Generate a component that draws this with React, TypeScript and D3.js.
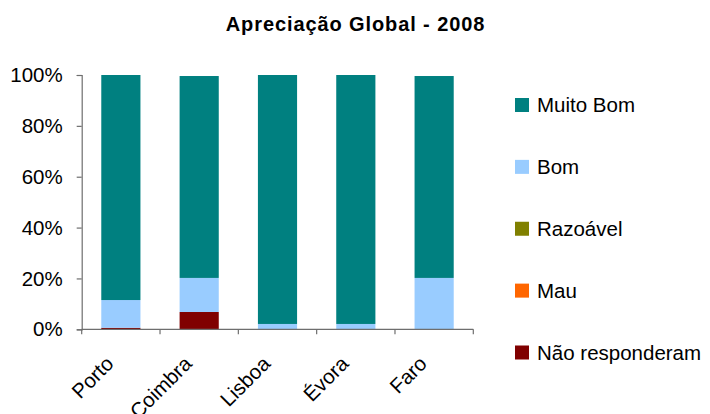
import { useRef, useEffect } from "react";
import * as d3 from "d3";

const categories = ["Porto", "Coimbra", "Lisboa", "Évora", "Faro"];
const naoResponderam = [0.6, 6.8, 0, 0, 0];
const mau = [0, 0, 0, 0, 0];
const razoavel = [0, 0, 0, 0, 0];
const bom = [10.9, 13.4, 2.1, 2.1, 20.2];
const muitoBom = [88.5, 79.4, 97.9, 97.9, 79.4];
const yTicks = [0, 20, 40, 60, 80, 100];

const seriesNames = ["Não responderam", "Mau", "Razoável", "Bom", "Muito Bom"];
const seriesColors = ["#800000", "#FF6600", "#808000", "#99CCFF", "#008080"];

const App = () => {
  const svgRef = useRef<SVGSVGElement>(null);

  useEffect(() => {
    const w = 710;
    const h = 414;
    const svg = d3.select(svgRef.current).attr("width", w).attr("height", h);
    svg.selectAll("*").remove();
    const font = "'Liberation Sans', Arial, sans-serif";
    const axisColor = "#6e6e6e";

    // table built from the arrays
    const keys = seriesNames;
    const values = [naoResponderam, mau, razoavel, bom, muitoBom];
    const table = categories.map((c, i) => {
      const row: any = { cat: c };
      keys.forEach((k, j) => (row[k] = values[j][i]));
      return row;
    });
    const stacked = d3.stack().keys(keys)(table);

    const left = 81.7;
    const right = 473.3;
    const x = d3
      .scaleBand()
      .domain(categories)
      .range([left, right])
      .paddingInner(0.5)
      .paddingOuter(0.25);
    const y = d3.scaleLinear().domain([0, 100]).range([329.3, 75]);
    const color = d3.scaleOrdinal<string>().domain(keys).range(seriesColors);

    // title
    svg
      .append("text")
      .attr("x", 355.5)
      .attr("y", 31)
      .attr("text-anchor", "middle")
      .style("font-family", font)
      .style("font-size", "20px")
      .style("font-weight", "bold")
      .style("letter-spacing", "0.9px")
      .text("Apreciação Global - 2008");

    // bars
    svg
      .append("g")
      .selectAll("g")
      .data(stacked)
      .join("g")
      .attr("fill", (d) => color(d.key))
      .selectAll("rect")
      .data((d) => d)
      .join("rect")
      .attr("x", (d: any) => x(d.data.cat)!)
      .attr("width", x.bandwidth())
      .attr("y", (d) => y(d[1]))
      .attr("height", (d) => y(d[0]) - y(d[1]));

    // y axis
    const yAxis = d3
      .axisLeft(y)
      .tickValues(yTicks)
      .tickFormat((d) => d + "%")
      .tickSize(5)
      .tickPadding(14);
    const yg = svg.append("g").attr("transform", `translate(${left},0)`).call(yAxis);
    yg.selectAll("path,line").attr("stroke", axisColor).attr("stroke-width", 1.2);
    yg.selectAll("text")
      .attr("fill", "#000")
      .style("font-family", font)
      .style("font-size", "20.5px");

    // x axis with ticks on band boundaries
    const step = x.step();
    const xg = svg.append("g");
    xg.append("line")
      .attr("x1", left)
      .attr("x2", right)
      .attr("y1", y(0))
      .attr("y2", y(0))
      .attr("stroke", axisColor)
      .attr("stroke-width", 1.2);
    xg.selectAll(".tick")
      .data(d3.range(categories.length + 1))
      .join("line")
      .attr("x1", (i) => left + i * step)
      .attr("x2", (i) => left + i * step)
      .attr("y1", y(0))
      .attr("y2", y(0) + 5)
      .attr("stroke", axisColor)
      .attr("stroke-width", 1.2);
    xg.selectAll("text")
      .data(categories)
      .join("text")
      .attr("transform", (d) => `translate(${x(d)! + x.bandwidth() / 2 - 6},365) rotate(-45)`)
      .attr("text-anchor", "end")
      .style("font-family", font)
      .style("font-size", "20.5px")
      .text((d) => d);

    // legend, top item first
    const legendOrder = keys.slice().reverse();
    const ly = d3.scalePoint().domain(legendOrder).range([105, 352.5]);
    const lg = svg
      .append("g")
      .selectAll("g")
      .data(legendOrder)
      .join("g")
      .attr("transform", (d) => `translate(515,${ly(d)})`);
    lg.append("rect")
      .attr("x", 0)
      .attr("y", -7)
      .attr("width", 14)
      .attr("height", 14)
      .attr("fill", (d) => color(d));
    lg.append("text")
      .attr("x", 22)
      .attr("dy", "0.35em")
      .style("font-family", font)
      .style("font-size", "20.5px")
      .text((d) => d);
  }, []);

  return <svg ref={svgRef} style={{ position: "absolute", left: 0, top: 0, background: "#fff" }}></svg>;
};

export default App;
